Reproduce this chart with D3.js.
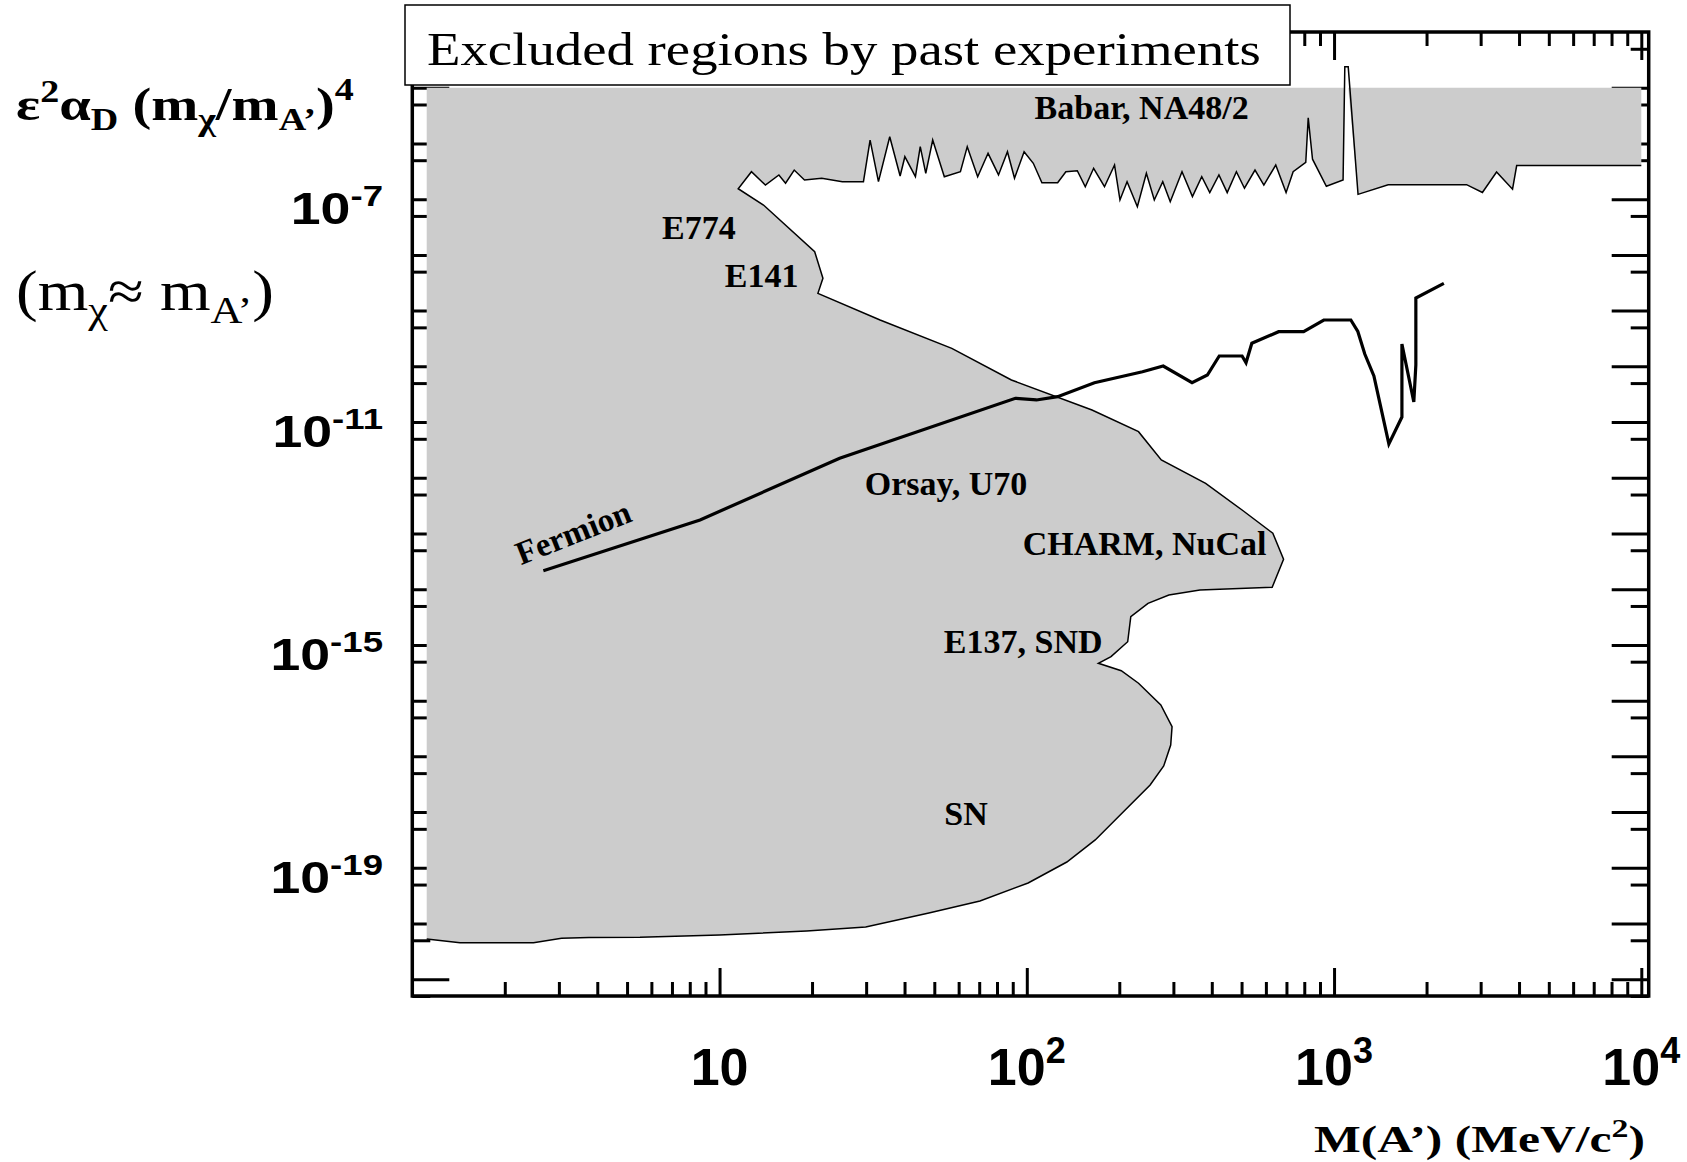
<!DOCTYPE html>
<html>
<head>
<meta charset="utf-8">
<script src="https://cdn.jsdelivr.net/npm/d3@7"></script>
<style>
  body { margin: 0; background: #fff; }
  text { fill: #000; }
</style>
</head>
<body>
<script>
// Excluded regions (mass in MeV, y = eps^2 alpha_D (m_chi/m_A')^4)

// Babar / NA48/2 lower edge, right to left
const babarEdge = [
  [1e4, 4.0e-7], [3930, 4.0e-7], [3810, 1.51e-7], [3380, 3.07e-7], [3040, 1.32e-7],
  [2700, 1.82e-7], [1500, 1.82e-7], [1197, 1.22e-7], [1112, 2.37e-5], [1084, 2.37e-5],
  [1070, 2.21e-7], [944, 1.70e-7], [851, 5.21e-7], [824, 2.88e-6], [809, 4.57e-7],
  [736, 3.11e-7], [698, 1.31e-7], [646, 4.10e-7], [591, 1.79e-7], [553, 3.33e-7],
  [511, 1.57e-7], [481, 3.11e-7], [449, 1.31e-7], [422, 2.72e-7], [394, 1.31e-7],
  [371, 2.53e-7], [346, 1.11e-7], [320, 3.11e-7], [293, 9.0e-8], [277, 2.06e-7],
  [260, 9.66e-8], [245, 2.91e-7], [229, 7.33e-8], [212, 2.06e-7], [201, 9.66e-8],
  [193, 4.10e-7], [179, 1.67e-7], [165, 3.58e-7], [155, 1.67e-7], [146, 3.24e-7],
  [134, 3.11e-7], [126, 1.97e-7], [112, 1.97e-7], [105, 4.40e-7], [98, 7.11e-7],
  [91.2, 2.37e-7], [86.5, 7.11e-7], [80.9, 2.72e-7], [74.8, 6.65e-7], [69.2, 2.53e-7],
  [64.0, 8.75e-7], [60.8, 3.11e-7], [53.9, 2.53e-7], [49.4, 1.15e-6], [46.9, 2.91e-7],
  [45.0, 8.75e-7], [43.4, 2.53e-7], [40.1, 5.78e-7], [38.7, 2.6e-7], [35.8, 1.32e-6],
  [32.9, 2.06e-7], [30.9, 1.15e-6], [29.4, 2.06e-7], [25.1, 2.06e-7], [21.5, 2.37e-7],
  [18.9, 2.21e-7], [17.5, 3.33e-7], [16.4, 1.93e-7], [15.6, 2.72e-7], [14.1, 1.79e-7],
  [12.7, 3.11e-7], [11.5, 1.54e-7]
];

// E774, E141, Orsay/U70, CHARM/NuCal, E137/SND edge
const beamDumpEdge = [
  [13.9, 7.85e-8], [20.4, 1.14e-8], [21.7, 3.80e-9], [20.9, 2.04e-9], [33.3, 6.78e-10],
  [57.0, 2.10e-10], [89.1, 5.69e-11], [163, 1.64e-11], [231, 6.71e-12], [274, 2.08e-12],
  [382, 7.96e-13], [502, 2.64e-13], [632, 1.01e-13], [685, 3.44e-14], [629, 1.08e-14],
  [366, 9.68e-15], [290, 7.87e-15], [248, 5.58e-15], [218, 3.21e-15], [213, 1.14e-15],
  [188, 6.15e-16], [171, 4.68e-16], [203, 3.45e-16], [231, 2.05e-16], [273, 8.36e-17],
  [297, 3.40e-17], [294, 1.60e-17]
];

// supernova edge, down to the lower left corner of the region
const snEdge = [
  [279, 6.71e-18], [252, 3.06e-18], [209, 1.09e-18], [167, 3.16e-19], [135, 1.27e-19],
  [101, 5.33e-20], [70.4, 2.54e-20], [48.0, 1.55e-20], [29.9, 8.67e-21], [19.2, 7.34e-21],
  [10.0, 6.22e-21], [5.51, 5.66e-21], [3.76, 5.62e-21], [3.06, 5.43e-21], [2.48, 4.53e-21],
  [1.43, 4.53e-21], [1.114, 5.28e-21]
];

const regionTop = 1e-5;

// Fermion dark matter curve
const fermion = [
  [2.67, 2.15e-14], [8.64, 1.75e-13], [24.6, 2.23e-12], [91.8, 2.67e-11], [107.5, 2.49e-11],
  [126, 2.85e-11], [166, 5.08e-11], [238, 8.0e-11], [278, 1.01e-10], [345, 5.08e-11],
  [387, 6.98e-11], [423, 1.53e-10], [502, 1.53e-10], [517, 1.16e-10], [540, 2.59e-10],
  [660, 4.18e-10], [796, 4.18e-10], [926, 6.78e-10], [1134, 6.78e-10], [1195, 4.21e-10],
  [1259, 1.66e-10], [1348, 6.70e-11], [1431, 1.51e-11], [1508, 4.04e-12], [1663, 1.23e-11],
  [1663, 2.52e-10], [1818, 2.29e-11], [1846, 1.06e-10], [1846, 1.68e-9], [2277, 3.08e-9]
];

const regionLabels = [
  { text: "Babar, NA48/2", m: 106, v: 2.75e-6 },
  { text: "E774", m: 6.5, v: 1.93e-8 },
  { text: "E141", m: 10.4, v: 2.65e-9 },
  { text: "Orsay, U70", m: 29.7, v: 4.9e-13 },
  { text: "CHARM, NuCal", m: 97, v: 4.1e-14 },
  { text: "E137, SND", m: 53.7, v: 7.2e-16 },
  { text: "SN", m: 53.9, v: 5.9e-19 }
];

const xLabelExp = [1, 2, 3, 4];        // 10, 10^2, 10^3, 10^4
const yLabelExp = [-7, -11, -15, -19];

const width = 1687, height = 1162;
const serif = "'Liberation Serif', 'Times New Roman', serif";
const sans = "'Liberation Sans', Arial, Helvetica, sans-serif";

const svg = d3.select("body").append("svg")
  .attr("width", width)
  .attr("height", height);

const x = d3.scaleLog().domain([1, 1.057e4]).range([412.3, 1648.7]);
const y = d3.scaleLog().domain([5e-22, 1e-4]).range([996, 32]);

// tick values
const xMajor = [10, 100, 1000, 10000];
const xMinor = [];
for (let e = 0; e < 4; e++) for (let k = 2; k <= 9; k++) xMinor.push(k * Math.pow(10, e));
const yMajor = [];
const yMinor = [];
for (let e = -21; e <= -5; e++) yMajor.push(Math.pow(10, e));
for (let e = -22; e <= -5; e++) yMinor.push(5 * Math.pow(10, e));

function tickAxis(axis, values, size, transform) {
  const g = svg.append("g")
    .attr("transform", transform)
    .call(axis.tickValues(values).tickSize(size).tickFormat(""));
  g.select(".domain").remove();
  g.selectAll("line").attr("stroke", "#000").attr("stroke-width", 3);
}

// ticks point into the frame
tickAxis(d3.axisTop(x), xMajor, 28, "translate(0,996)");
tickAxis(d3.axisTop(x), xMinor, 14, "translate(0,996)");
tickAxis(d3.axisBottom(x), xMajor, 28, "translate(0,32)");
tickAxis(d3.axisBottom(x), xMinor, 14, "translate(0,32)");
tickAxis(d3.axisRight(y), yMajor, 37, "translate(412.3,0)");
tickAxis(d3.axisRight(y), yMinor, 18, "translate(412.3,0)");
tickAxis(d3.axisLeft(y), yMajor, 37, "translate(1648.7,0)");
tickAxis(d3.axisLeft(y), yMinor, 18, "translate(1648.7,0)");

// frame
svg.append("rect")
  .attr("x", x(1)).attr("y", y(1e-4))
  .attr("width", x(1.057e4) - x(1)).attr("height", y(5e-22) - y(1e-4))
  .attr("fill", "none").attr("stroke", "#000").attr("stroke-width", 3.5);

// excluded region
const edge = babarEdge.concat(beamDumpEdge, snEdge);
const leftMass = snEdge[snEdge.length - 1][0];
const fillPts = [[leftMass, regionTop], [babarEdge[0][0], regionTop]]
  .concat(edge.map(d => [d[0], Math.min(d[1], regionTop)]));

const line = d3.line().x(d => x(d[0])).y(d => y(d[1]));

svg.append("path")
  .attr("d", line(fillPts) + "Z")
  .attr("fill", "#cccccc")
  .attr("stroke", "none");

svg.append("path")
  .attr("d", line(edge))
  .attr("fill", "none")
  .attr("stroke", "#000")
  .attr("stroke-width", 1.5)
  .attr("stroke-linejoin", "miter");

svg.append("path")
  .attr("d", line(fermion))
  .attr("fill", "none")
  .attr("stroke", "#000")
  .attr("stroke-width", 3.2);

// region labels
svg.selectAll(".rlab")
  .data(regionLabels)
  .enter().append("text")
  .attr("class", "rlab")
  .attr("x", d => x(d.m))
  .attr("y", d => y(d.v))
  .attr("font-family", serif)
  .attr("font-weight", "bold")
  .attr("font-size", 34)
  .text(d => d.text);

svg.append("text")
  .attr("transform", "translate(" + x(2.26) + "," + y(2.7e-14) + ") rotate(-21.5)")
  .attr("font-family", serif)
  .attr("font-weight", "bold")
  .attr("font-size", 33)
  .text("Fermion");

// x tick labels
xLabelExp.forEach(function (e) {
  const t = svg.append("text")
    .attr("x", x(Math.pow(10, e)))
    .attr("y", 1085)
    .attr("text-anchor", "middle")
    .attr("font-family", sans)
    .attr("font-weight", "bold")
    .attr("font-size", 52)
    .text("10");
  if (e > 1) {
    t.append("tspan").attr("dy", -22).attr("font-size", 36).text(e);
  }
});

// y tick labels (they are drawn wider than the x ones)
yLabelExp.forEach(function (e) {
  const g = svg.append("g")
    .attr("transform", "translate(383," + (y(Math.pow(10, e)) + 25) + ") scale(1.22,1)");
  const t = g.append("text")
    .attr("text-anchor", "end")
    .attr("font-family", sans)
    .attr("font-weight", "bold")
    .attr("font-size", 44)
    .text("10");
  t.append("tspan").attr("dy", -18).attr("font-size", 30).text(e);
});

// stretch a text so it spans a given width
function fitText(t, x0, y0, w) {
  const bb = t.node().getBBox();
  const s = w / bb.width;
  t.attr("transform", "translate(" + (x0 - bb.x * s) + "," + y0 + ") scale(" + s + ",1)");
}

// axis titles
const xt = svg.append("text")
  .attr("font-family", serif).attr("font-weight", "bold").attr("font-size", 38);
xt.append("tspan").text("M(A\u2019) (MeV/c");
xt.append("tspan").attr("dy", -15).attr("font-size", 26).text("2");
xt.append("tspan").attr("dy", 15).text(")");
fitText(xt, 1314, 1152, 331);

const yt = svg.append("text")
  .attr("font-family", serif).attr("font-weight", "bold").attr("font-size", 46);
yt.append("tspan").text("\u03b5");
yt.append("tspan").attr("dy", -18).attr("font-size", 31).text("2");
yt.append("tspan").attr("dy", 18).text("\u03b1");
yt.append("tspan").attr("dy", 10).attr("font-size", 31).text("D");
yt.append("tspan").attr("dy", -10).text(" (m");
yt.append("tspan").attr("dy", 10).attr("font-size", 31).text("\u03c7");
yt.append("tspan").attr("dy", -10).text("/m");
yt.append("tspan").attr("dy", 10).attr("font-size", 31).text("A\u2019");
yt.append("tspan").attr("dy", -10).text(")");
yt.append("tspan").attr("dy", -20).attr("font-size", 31).text("4");
fitText(yt, 16, 120, 338);

const ct = svg.append("text")
  .attr("font-family", serif).attr("font-size", 56);
ct.append("tspan").text("(m");
ct.append("tspan").attr("dy", 13).attr("font-size", 38).text("\u03c7");
ct.append("tspan").attr("dy", -13).text("\u2248 m");
ct.append("tspan").attr("dy", 13).attr("font-size", 38).text("A\u2019");
ct.append("tspan").attr("dy", -13).text(")");
fitText(ct, 16, 310, 258);

// title box over the top axis
svg.append("rect")
  .attr("x", 405).attr("y", 5)
  .attr("width", 885).attr("height", 80)
  .attr("fill", "#fff").attr("stroke", "#000").attr("stroke-width", 1.5);

const tt = svg.append("text")
  .attr("font-family", serif).attr("font-size", 46)
  .text("Excluded regions by past experiments");
fitText(tt, 427, 65, 834);
</script>
</body>
</html>
